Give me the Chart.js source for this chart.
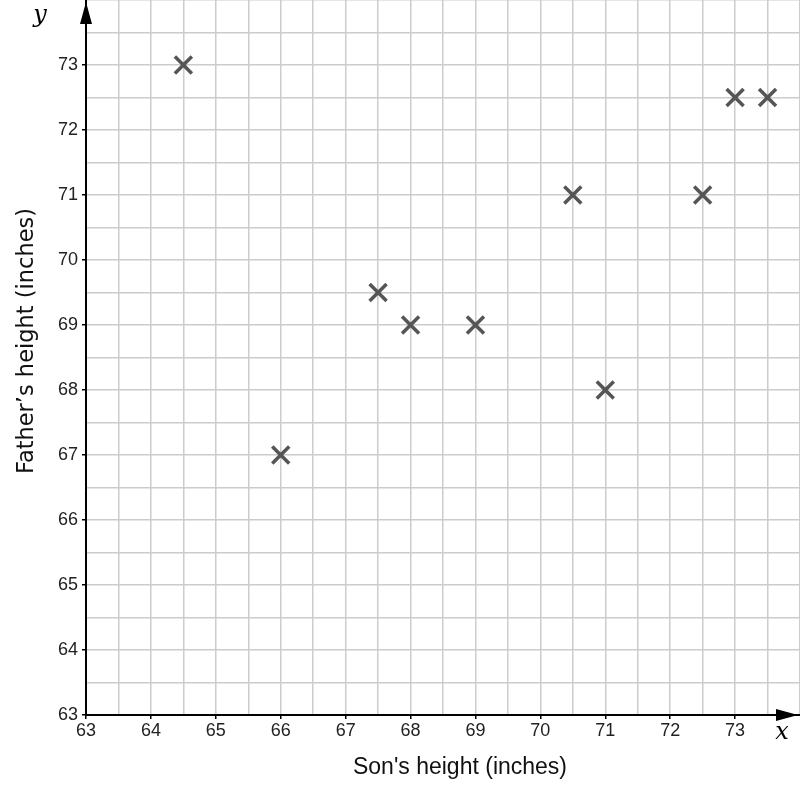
<!DOCTYPE html>
<html>
<head>
<meta charset="utf-8">
<script src="https://cdn.jsdelivr.net/npm/chart.js@4"></script>
<style>
  html, body { margin: 0; padding: 0; background: #fff; }
  #wrap { width: 800px; height: 795px; position: relative; }
</style>
</head>
<body>
<div id="wrap"><canvas id="mainChart"></canvas></div>
<script>
// son's height (x) vs father's height (y), inches
const sonHeights = [64.5, 66, 67.5, 68, 69, 70.5, 71, 72.5, 73, 73.5];
const fatherHeights = [73, 67, 69.5, 69, 69, 71, 68, 71, 72.5, 72.5];
const xRange = [63, 74];
const yRange = [63, 74];
const xTitle = "Son's height (inches)";
const yTitle = "Father\u2019s height (inches)";

const points = sonHeights.map((x, i) => ({ x: x, y: fatherHeights[i] }));

const isWhole = v => Math.abs(v - Math.round(v)) < 1e-6;
const tickMark = c => (isWhole(c.tick.value) && c.tick.value < 74) ? '#000' : 'rgba(0,0,0,0)';
const tickText = v => (isWhole(v) && v < 74) ? String(Math.round(v)) : '';

// arrows at the end of both axes, axis titles and the italic x / y labels
const axisDecor = {
    id: 'axisDecor',
    afterDraw(chart) {
        const ctx = chart.ctx;
        const a = chart.chartArea;
        ctx.save();
        ctx.fillStyle = '#000';
        // y arrow
        ctx.beginPath();
        ctx.moveTo(a.left, 2);
        ctx.lineTo(a.left - 6, 24);
        ctx.lineTo(a.left + 6, 24);
        ctx.closePath();
        ctx.fill();
        // x arrow
        ctx.beginPath();
        ctx.moveTo(798, a.bottom);
        ctx.lineTo(776, a.bottom - 6);
        ctx.lineTo(776, a.bottom + 6);
        ctx.closePath();
        ctx.fill();

        ctx.font = 'italic 24px "DejaVu Serif", "Liberation Serif", serif';
        ctx.textAlign = 'center';
        ctx.textBaseline = 'middle';
        ctx.fillText('y', 40, 16);
        ctx.fillText('x', 782, 733);

        ctx.fillStyle = '#111';
        ctx.font = '23px "Liberation Sans", Arial, sans-serif';
        ctx.fillText(xTitle, 460, 768);

        ctx.translate(27, 341);
        ctx.rotate(-Math.PI / 2);
        ctx.font = '22.5px "DejaVu Sans", sans-serif';
        ctx.fillText(yTitle, 0, 0);
        ctx.restore();
    }
};

const ctx = document.getElementById('mainChart').getContext('2d');
new Chart(ctx, {
    type: 'scatter',
    data: {
        datasets: [{
            data: points,
            pointStyle: 'crossRot',
            pointRadius: 12,
            pointHoverRadius: 12,
            borderColor: '#555',
            backgroundColor: '#555',
            pointBorderWidth: 3.5
        }]
    },
    options: {
        responsive: true,
        maintainAspectRatio: false,
        animation: false,
        layout: { padding: 0, autoPadding: false },
        plugins: {
            legend: { display: false },
            tooltip: { enabled: false }
        },
        scales: {
            x: {
                type: 'linear',
                min: xRange[0],
                max: xRange[1],
                afterFit(scale) {
                    scale.height = 80;
                    scale.paddingLeft = 0;
                    scale.paddingRight = 0;
                },
                grid: {
                    color: '#cccccc',
                    lineWidth: 1.5,
                    tickLength: 4,
                    tickColor: tickMark,
                    tickWidth: 1.5
                },
                border: { color: '#000', width: 2 },
                ticks: {
                    stepSize: 0.5,
                    autoSkip: false,
                    maxRotation: 0,
                    padding: 1,
                    color: '#222',
                    font: { family: '"Liberation Sans", Arial, sans-serif', size: 18 },
                    callback: tickText
                }
            },
            y: {
                type: 'linear',
                min: yRange[0],
                max: yRange[1],
                afterFit(scale) {
                    scale.width = 86;
                    scale.paddingTop = 0;
                    scale.paddingBottom = 0;
                },
                grid: {
                    color: '#cccccc',
                    lineWidth: 1.5,
                    tickLength: 4,
                    tickColor: tickMark,
                    tickWidth: 1.5
                },
                border: { color: '#000', width: 2 },
                ticks: {
                    stepSize: 0.5,
                    autoSkip: false,
                    padding: 4,
                    color: '#222',
                    font: { family: '"Liberation Sans", Arial, sans-serif', size: 18 },
                    callback: tickText
                }
            }
        }
    },
    plugins: [axisDecor]
});
</script>
</body>
</html>
